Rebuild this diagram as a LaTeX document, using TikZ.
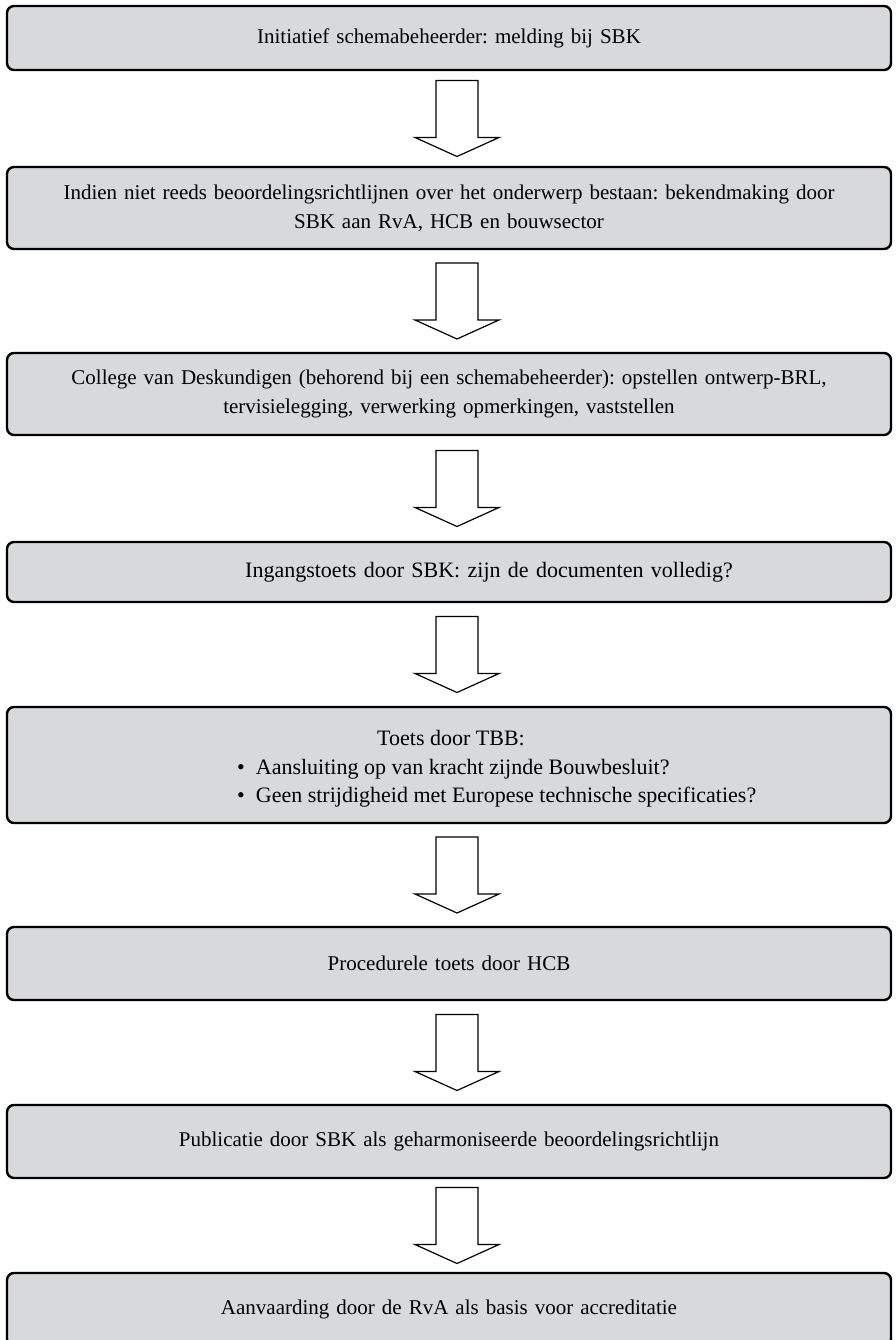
\documentclass[tikz,border=0pt]{standalone}
\usepackage{fontspec}
\setmainfont{Liberation Serif}
\usetikzlibrary{calc}
\definecolor{boxgray}{RGB}{216,217,219}
\tikzset{
  stepbox/.style={draw=black, line width=2.4pt, rounded corners=7pt, fill=boxgray,
    minimum width=884pt, text width=870pt, align=center, inner sep=0pt,
    font=\fontsize{21}{29}\selectfont},
  plaintext/.style={inner sep=0pt, font=\fontsize{22}{29}\selectfont},
  blockarrow/.style={draw=black, line width=1.2pt, fill=white, line join=miter}
}
% hollow block arrow centred in the gap between two boxes
\newcommand\flowarrow[2]{%
  \draw[blockarrow] let \p1=(#1.south), \p2=(#2.north), \n1={0.5*(\y1+\y2)} in
    (436pt,\n1+38pt) -- (478pt,\n1+38pt) -- (478pt,\n1-19pt) -- (499pt,\n1-19pt)
    -- (457pt,\n1-38pt) -- (415pt,\n1-19pt) -- (436pt,\n1-19pt) -- cycle;}
\begin{document}
\frenchspacing
\begin{tikzpicture}[x=1pt,y=-1pt]
  \useasboundingbox (0,0) rectangle (896,1340);

  \node[stepbox, minimum height=64pt] (b1) at (449,38)
    {Initiatief schemabeheerder: melding bij SBK};
  \node[stepbox, minimum height=82pt] (b2) at (449,208)
    {Indien niet reeds beoordelingsrichtlijnen over het onderwerp bestaan: bekendmaking door\\
     SBK aan RvA, HCB en bouwsector};
  \node[stepbox, minimum height=82pt] (b3) at (449,394)
    {College van Deskundigen (behorend bij een schemabeheerder): opstellen ontwerp-BRL,\\
     tervisielegging, verwerking opmerkingen, vaststellen};
  \node[stepbox, minimum height=60pt, font=\fontsize{22}{29}\selectfont] (b4) at (449,572)
    {\hspace*{80pt}Ingangstoets door SBK: zijn de documenten volledig?};
  \node[stepbox, minimum height=116pt] (b5) at (449,765) {};
  \node[plaintext, anchor=base] (b5title) at (451,745) {Toets door TBB:};
  \node[plaintext, anchor=base west] (b5item1) at (237,774)
    {\textbullet\hspace{11pt}Aansluiting op van kracht zijnde Bouwbesluit?};
  \node[plaintext, anchor=base west] (b5item2) at (237,802)
    {\textbullet\hspace{11pt}Geen strijdigheid met Europese technische specificaties?};
  \node[stepbox, minimum height=73pt] (b6) at (449,963.5)
    {Procedurele toets door HCB};
  \node[stepbox, minimum height=73pt] (b7) at (449,1141.5)
    {Publicatie door SBK als geharmoniseerde beoordelingsrichtlijn};
  \node[stepbox, minimum height=73pt] (b8) at (449,1309.5)
    {Aanvaarding door de RvA als basis voor accreditatie};

  \flowarrow{b1}{b2}
  \flowarrow{b2}{b3}
  \flowarrow{b3}{b4}
  \flowarrow{b4}{b5}
  \flowarrow{b5}{b6}
  \flowarrow{b6}{b7}
  \flowarrow{b7}{b8}
\end{tikzpicture}
\end{document}
